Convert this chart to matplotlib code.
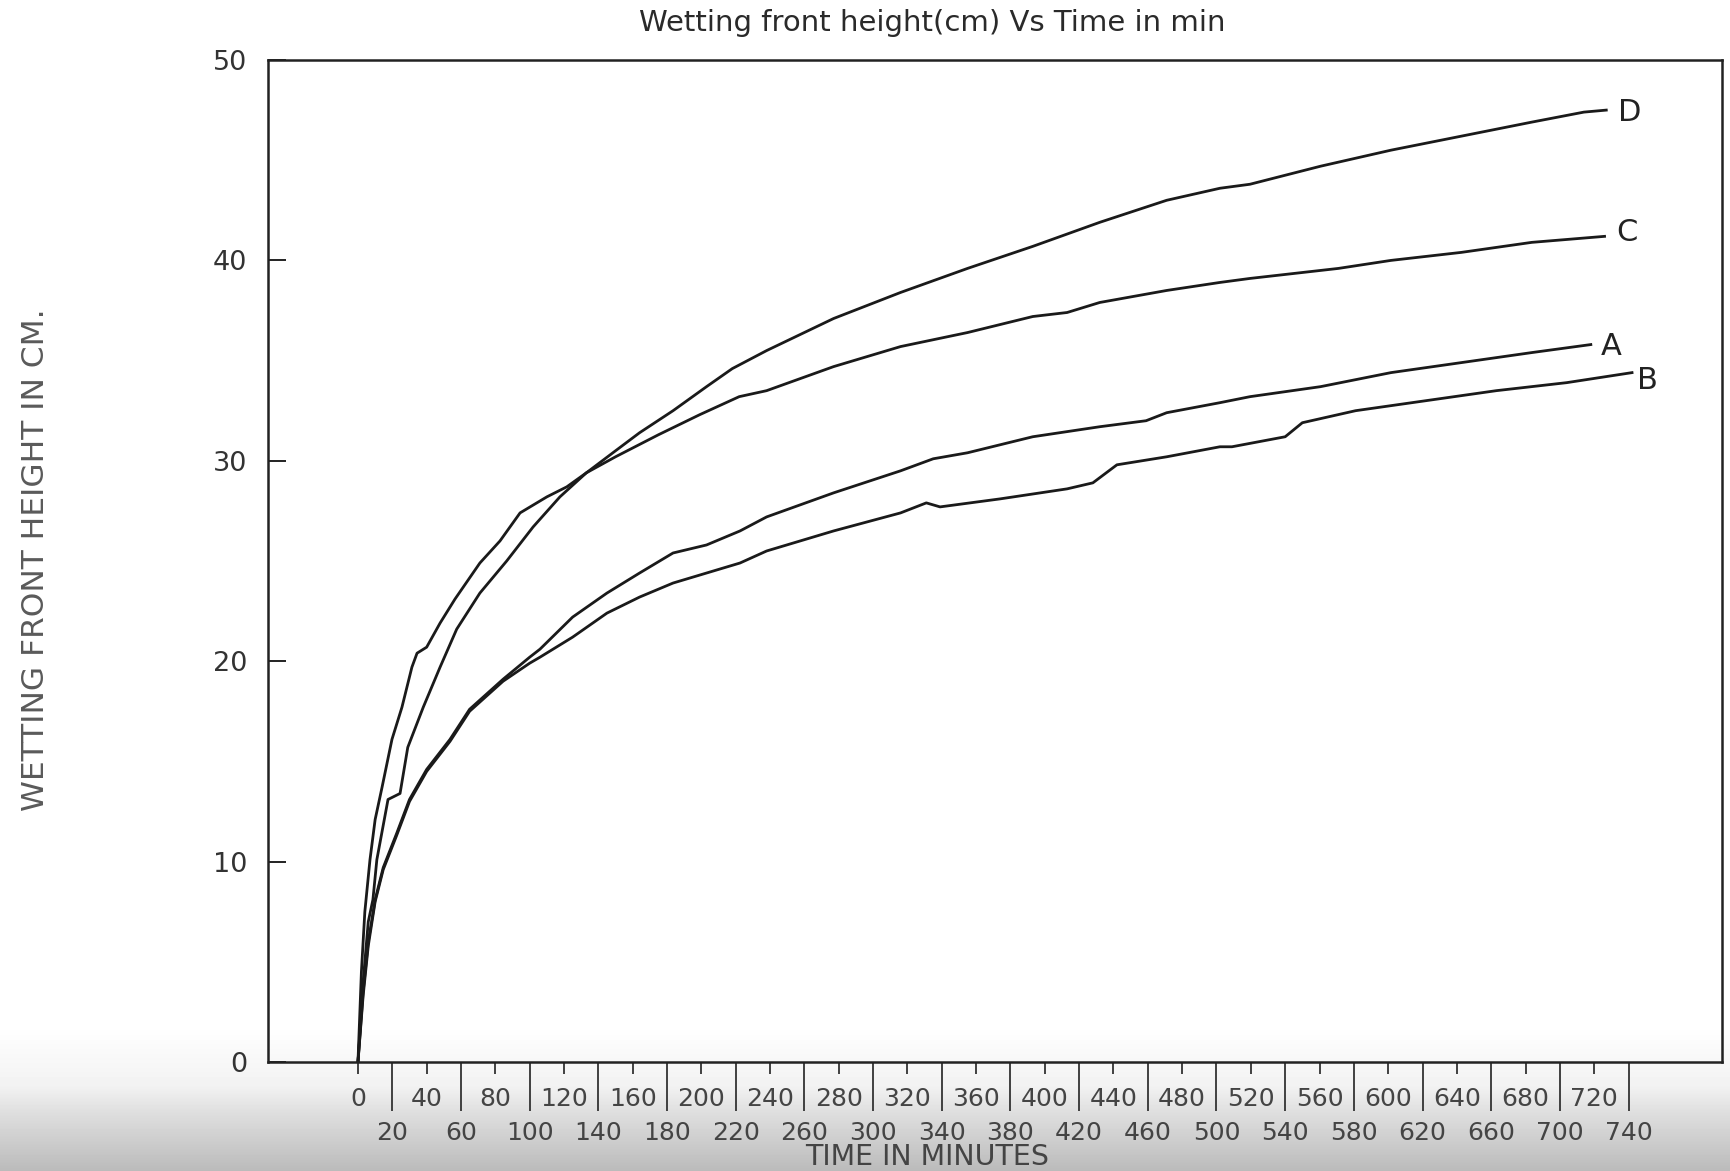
import matplotlib
matplotlib.use('Agg')
import matplotlib.pyplot as plt
import numpy as np

# wetting front height (cm), time in minutes
time_a = [0, 3, 6, 10, 14.7, 22.5, 30, 40, 53.6, 65, 84.5, 100, 106, 125, 145, 164,
          183.5, 203, 222.5, 238, 277, 316, 335, 355, 393, 432, 459, 471, 502, 519.5,
          560.6, 601.6, 642.6, 683.6, 718]
height_a = [0, 3.5, 6, 8.1, 9.7, 11.4, 13.1, 14.6, 16.1, 17.6, 19.1, 20.2, 20.6, 22.2, 23.4, 24.4,
            25.4, 25.8, 26.5, 27.2, 28.4, 29.5, 30.1, 30.4, 31.2, 31.7, 32.0, 32.4, 32.9, 33.2,
            33.7, 34.4, 34.9, 35.4, 35.8]

time_b = [0, 3, 6, 10, 14.7, 22.5, 30, 40, 53.6, 65, 84.5, 100, 106, 125, 145, 164,
          183.5, 203, 222.5, 238, 277, 316, 331, 339, 374, 413, 428, 442, 471, 502,
          509, 540, 550, 581, 622, 663, 704, 742]
height_b = [0, 3.3, 5.8, 8.0, 9.6, 11.3, 13.0, 14.5, 16.0, 17.5, 19.0, 19.9, 20.2, 21.2, 22.4, 23.2,
            23.9, 24.4, 24.9, 25.5, 26.5, 27.4, 27.9, 27.7, 28.1, 28.6, 28.9, 29.8, 30.2, 30.7,
            30.7, 31.2, 31.9, 32.5, 33.0, 33.5, 33.9, 34.4]

time_c = [0, 2, 4, 7, 10, 14, 19.8, 25.6, 31.4, 34.4, 40, 47.8, 56.5, 71, 82.7, 94.4,
          110, 121.6, 133, 150, 175, 199, 222, 238, 277, 316, 355, 393, 413, 432,
          471, 502, 519.5, 571, 601.6, 642.6, 683.6, 726]
height_c = [0, 4.5, 7.5, 10.1, 12.1, 13.7, 16.1, 17.7, 19.7, 20.4, 20.7, 21.9, 23.1, 24.9, 26.0, 27.4,
            28.2, 28.7, 29.4, 30.2, 31.3, 32.3, 33.2, 33.5, 34.7, 35.7, 36.4, 37.2, 37.4, 37.9,
            38.5, 38.9, 39.1, 39.6, 40.0, 40.4, 40.9, 41.2]

time_d = [0, 3, 6, 8.7, 11, 17.5, 24.5, 29, 38, 47.8, 57.5, 71, 86.6, 102, 117.6, 133,
          150, 164, 183.5, 203, 218, 238, 277, 316, 355, 393, 432, 471, 502, 519.5,
          560.6, 601.6, 642.6, 683.6, 714, 727]
height_d = [0, 4, 7, 8.1, 10.1, 13.1, 13.4, 15.7, 17.7, 19.7, 21.6, 23.4, 25.0, 26.7, 28.2, 29.4,
            30.5, 31.4, 32.5, 33.7, 34.6, 35.5, 37.1, 38.4, 39.6, 40.7, 41.9, 43.0, 43.6, 43.8,
            44.7, 45.5, 46.2, 46.9, 47.4, 47.5]

curve_names = ['A', 'B', 'C', 'D']
label_pos = [(724, 35.7), (745, 34.0), (733, 41.4), (734, 47.4)]

upper_ticks = list(range(0, 721, 40))
lower_ticks = list(range(20, 741, 40))
y_ticks = [0, 10, 20, 30, 40, 50]

W, H = 1731, 1171
fig = plt.figure(figsize=(W / 100, H / 100), dpi=100)

# grey shading of the scanned page towards the bottom
bg = fig.add_axes([0, 0, 1, 1], zorder=-10)
rows = np.arange(H)
shade = np.interp(rows, [0, 1025, 1085, 1113, 1171], [1.0, 1.0, 0.95, 0.87, 0.73])
bg.imshow(np.tile(shade[:, None], (1, 2)), cmap='gray', vmin=0, vmax=1,
          aspect='auto', extent=[0, 1, 0, 1])
bg.axis('off')

left, right, top, bottom = 268, 1722, 60, 1062
ax = fig.add_axes([left / W, 1 - bottom / H, (right - left) / W, (bottom - top) / H])
ax.patch.set_alpha(0)

for t, h in [(time_a, height_a), (time_b, height_b), (time_c, height_c), (time_d, height_d)]:
    ax.plot(t, h, color='#1a1a1a', lw=2.0)

for name, (tx, ty) in zip(curve_names, label_pos):
    ax.text(tx, ty, name, ha='left', va='center', fontsize=22, color='#222')

ax.set_xlim(-52.4, 794.4)
ax.set_ylim(0, 50)

ax.set_xticks(upper_ticks, labels=[str(v) for v in upper_ticks])
ax.set_xticks(lower_ticks, labels=[str(v) for v in lower_ticks], minor=True)
ax.tick_params(axis='x', which='major', direction='out', length=8.6, width=1.3,
               pad=9.4, labelsize=18, labelcolor='#444', color='#333')
ax.tick_params(axis='x', which='minor', direction='out', length=35, width=1.3,
               pad=7.5, labelsize=18, labelcolor='#444', color='#333')
ax.set_yticks(y_ticks)
ax.tick_params(axis='y', direction='in', length=13, width=1.4, pad=15,
               labelsize=19.5, labelcolor='#333', color='#222')

for sp in ax.spines.values():
    sp.set_linewidth(1.8)
    sp.set_color('#222')

fig.text(932 / W, 1 - 23 / H, 'Wetting front height(cm) Vs Time in min',
         ha='center', va='center', fontsize=21, color='#2a2a2a')
fig.text(36 / W, 1 - 560 / H, 'WETTING FRONT HEIGHT IN CM.', rotation=90,
         ha='center', va='center', fontsize=22.5, color='#5a5a5a')
fig.text(927 / W, 1 - 1157 / H, 'TIME IN MINUTES', ha='center', va='center',
         fontsize=20.5, color='#444')

fig.savefig('out.png', dpi=100)
